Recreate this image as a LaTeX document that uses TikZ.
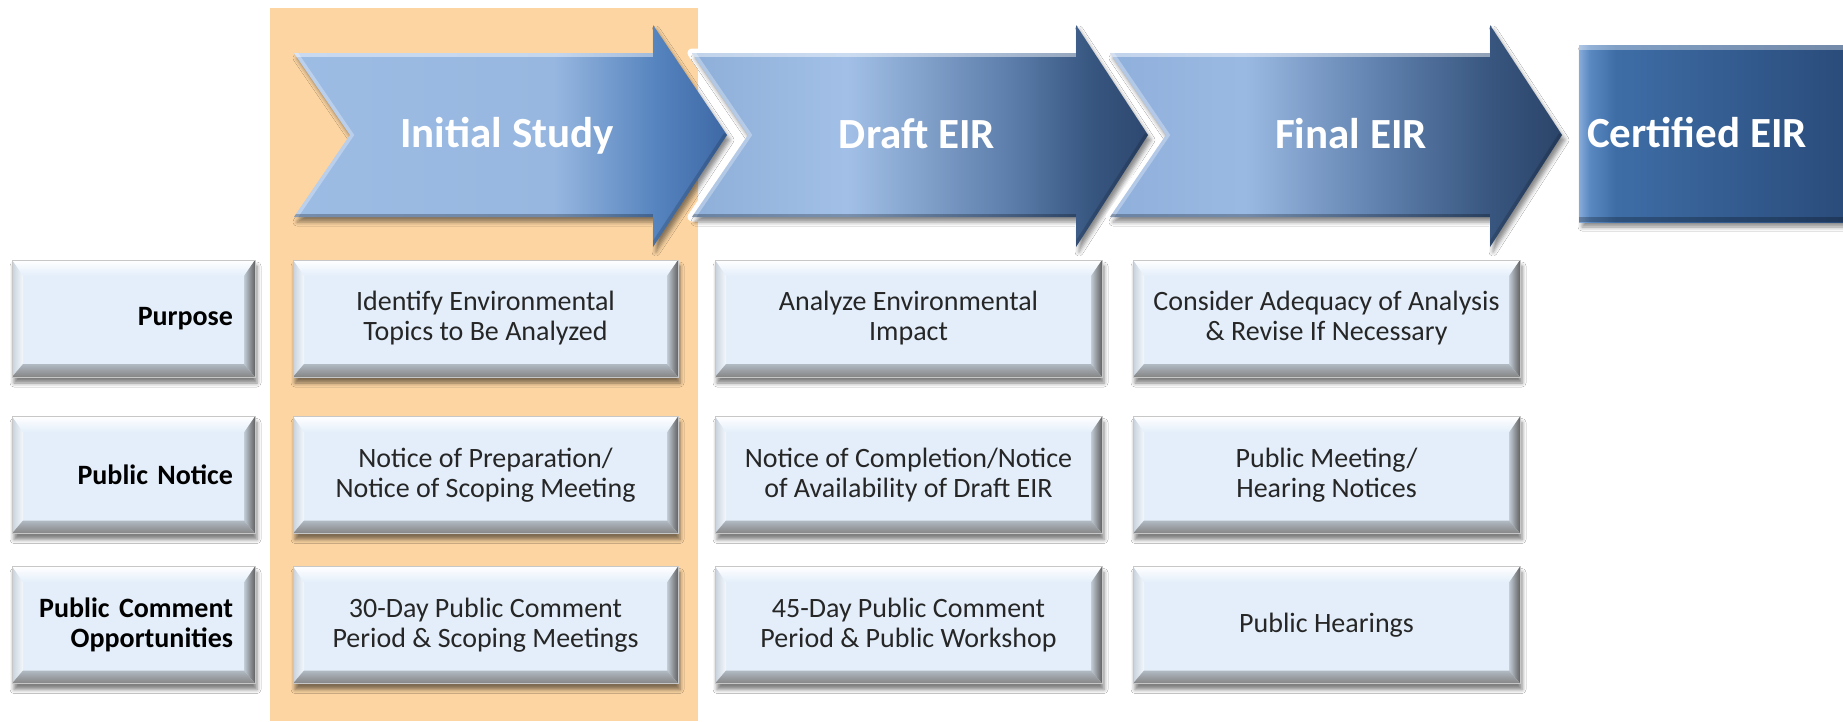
\documentclass[tikz,border=0pt]{standalone}
\usepackage{fontspec}
\setmainfont{Carlito}
\usetikzlibrary{shadows.blur}

\definecolor{band}{HTML}{FCD5A2}
\definecolor{cellfill}{HTML}{E3EEFA}
\definecolor{celltext}{HTML}{262626}
\definecolor{a1l}{HTML}{9DBCE4}
\definecolor{a1m}{HTML}{97B7E0}
\definecolor{a1d}{HTML}{5583BE}
\definecolor{a1e}{HTML}{3D68A5}
\definecolor{a2l}{HTML}{8EAFD9}
\definecolor{a2m}{HTML}{A2C0E7}
\definecolor{a2n}{HTML}{5C7DAA}
\definecolor{a2d}{HTML}{36557F}
\definecolor{a2e}{HTML}{2E4870}
\definecolor{a3l}{HTML}{90B0DC}
\definecolor{a3m}{HTML}{9AB9E2}
\definecolor{a3n}{HTML}{5F80AD}
\definecolor{a3d}{HTML}{38567F}
\definecolor{a3e}{HTML}{2B4469}
\definecolor{c1}{HTML}{86ABD9}
\definecolor{c2}{HTML}{5A89C2}
\definecolor{c3}{HTML}{3E6DA6}
\definecolor{c4}{HTML}{2A4C7B}

\pgfdeclarehorizontalshading{arrowone}{100bp}{color(0bp)=(a1l); color(25bp)=(a1l); color(55bp)=(a1m); color(67bp)=(a1d); color(75bp)=(a1e); color(100bp)=(a1e)}
\pgfdeclarehorizontalshading{arrowtwo}{100bp}{color(0bp)=(a2l); color(25bp)=(a2l); color(42bp)=(a2m); color(60bp)=(a2n); color(69bp)=(a2d); color(75bp)=(a2e); color(100bp)=(a2e)}
\pgfdeclarehorizontalshading{arrowthree}{100bp}{color(0bp)=(a3l); color(25bp)=(a3l); color(40bp)=(a3m); color(55bp)=(a3n); color(67bp)=(a3d); color(75bp)=(a3e); color(100bp)=(a3e)}
\pgfdeclarehorizontalshading{certshade}{100bp}{color(0bp)=(c1); color(25bp)=(c1); color(27bp)=(c2); color(32bp)=(c3); color(75bp)=(c4); color(100bp)=(c4)}

\newcommand\arrowpath[3]{(#1,53) -- (#2,53) -- (#2,25) -- (#3,135) -- (#2,247) -- (#2,217) -- (#1,217) -- ({#1+56},135) -- cycle}
\newcommand\arrowbevel[3]{%
  \begin{scope}
    \clip \arrowpath{#1}{#2}{#3};
    \draw[white, opacity=.45, line width=7pt] (#1,53) -- (#2,53);
    \draw[white, opacity=.3, line width=7pt] (#1,53) -- ({#1+56},135) -- (#1,217);
    \draw[black, opacity=.25, line width=7pt] (#1,217) -- (#2,217);
    \draw[black, opacity=.15, line width=7pt] (#2,247) -- (#3,135);
  \end{scope}}

\tikzset{
  arrowshadow/.style={blur shadow={shadow xshift=3pt, shadow yshift=-5pt, shadow blur radius=4pt, shadow opacity=45}},
  headtext/.style={text=white, font=\bfseries\fontsize{43}{50}\selectfont, anchor=base, inner sep=0pt},
  bevelcell/.style={
    fill=cellfill, draw=black!22, line width=0.6pt,
    minimum height=117pt, inner ysep=4pt,
    blur shadow={shadow xshift=2pt, shadow yshift=-6pt, shadow blur radius=4pt, shadow opacity=50},
    path picture={
      \coordinate (bnw) at (path picture bounding box.north west);
      \coordinate (bne) at (path picture bounding box.north east);
      \coordinate (bsw) at (path picture bounding box.south west);
      \coordinate (bse) at (path picture bounding box.south east);
      \shade[top color=white, bottom color=cellfill] (bnw) -- (bne) -- ([shift={(-11pt,-16pt)}]bne) -- ([shift={(11pt,-16pt)}]bnw) -- cycle;
      \shade[left color=black!12!cellfill, right color=white!60!cellfill] (bnw) -- ([shift={(11pt,-16pt)}]bnw) -- ([shift={(11pt,13pt)}]bsw) -- (bsw) -- cycle;
      \shade[left color=black!14!cellfill, right color=black!62] (bne) -- (bse) -- ([shift={(-11pt,13pt)}]bse) -- ([shift={(-11pt,-16pt)}]bne) -- cycle;
      \shade[top color=black!22!cellfill, bottom color=black!48] (bsw) -- ([shift={(11pt,13pt)}]bsw) -- ([shift={(-11pt,13pt)}]bse) -- (bse) -- cycle;
    }},
  cell/.style={bevelcell, text=celltext, font=\fontsize{28}{30}\selectfont, align=center},
  labelcell/.style={bevelcell, text=black, font=\bfseries\fontsize{28}{30}\selectfont, align=right, text width=199pt, inner xsep=22pt},
}

\begin{document}
\begin{tikzpicture}[x=1pt,y=-1pt]
\useasboundingbox (0,0) rectangle (1843,721);
\fill[white] (0,0) rectangle (1843,721);
\fill[band] (270,8) rectangle (698,721);

% arrow 1
\shade[shading=arrowone, arrowshadow] \arrowpath{294}{653}{727};
\arrowbevel{294}{653}{727}
% arrow 2
\draw[white, line width=9pt, line join=round] \arrowpath{692}{1076}{1148};
\shade[shading=arrowtwo, arrowshadow] \arrowpath{692}{1076}{1148};
\arrowbevel{692}{1076}{1148}
% arrow 3
\draw[white, line width=9pt, line join=round] \arrowpath{1110}{1490}{1562};
\shade[shading=arrowthree, arrowshadow] \arrowpath{1110}{1490}{1562};
\arrowbevel{1110}{1490}{1562}
% certified box
\shade[shading=certshade, arrowshadow] (1579,45) rectangle (1843,222);
\draw[white, opacity=.35, line width=5pt] (1579,47.5) -- (1843,47.5);
\draw[black, opacity=.25, line width=5pt] (1579,219.5) -- (1843,219.5);

\node[headtext] (tis) at (507,147) {Initial Study};
\node[headtext] (tde) at (917,148) {Draft EIR};
\node[headtext] (tfe) at (1351,148) {Final EIR};
\node[headtext] (tce) at (1697,147) {Certified EIR};

% row labels
\node[labelcell] (lp) at (133.5,318.5) {Purpose};
\node[labelcell] (ln) at (133.5,475) {Public Notice};
\node[labelcell] (lc) at (133.5,625) {Public Comment\\Opportunities};

% Initial Study column
\node[cell, minimum width=385pt] (is1) at (485.5,318.5) {Identify Environmental\\Topics to Be Analyzed};
\node[cell, minimum width=385pt] (is2) at (485.5,475) {Notice of Preparation/\\Notice of Scoping Meeting};
\node[cell, minimum width=385pt] (is3) at (485.5,625) {30-Day Public Comment\\Period \& Scoping Meetings};

% Draft EIR column
\node[cell, minimum width=387pt] (de1) at (908.5,318.5) {Analyze Environmental\\Impact};
\node[cell, minimum width=387pt] (de2) at (908.5,475) {Notice of Completion/Notice\\of Availability of Draft EIR};
\node[cell, minimum width=387pt] (de3) at (908.5,625) {45-Day Public Comment\\Period \& Public Workshop};

% Final EIR column
\node[cell, minimum width=387pt] (fe1) at (1326.5,318.5) {Consider Adequacy of Analysis\\\& Revise If Necessary};
\node[cell, minimum width=387pt] (fe2) at (1326.5,475) {Public Meeting/\\Hearing Notices};
\node[cell, minimum width=387pt] (fe3) at (1326.5,625) {Public Hearings};
\end{tikzpicture}
\end{document}
